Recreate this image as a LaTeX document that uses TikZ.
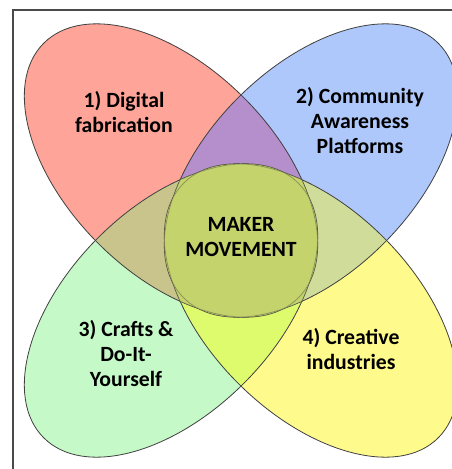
\documentclass[tikz,border=0pt]{standalone}
\usepackage{fontspec}
\setmainfont{Carlito}
\definecolor{cR}{HTML}{FFA498}
\definecolor{cB}{HTML}{AFC8FB}
\definecolor{cG}{HTML}{C6F9C8}
\definecolor{cY}{HTML}{FFFA8C}
\definecolor{cRB}{HTML}{B48FCB}
\definecolor{cRG}{HTML}{C8C48C}
\definecolor{cBY}{HTML}{D0DC9A}
\definecolor{cGY}{HTML}{DEFB6E}
\definecolor{cC}{HTML}{C5D36C}
\definecolor{frameC}{HTML}{4A4A4A}
\newcommand\pathR[1]{\path[#1, rotate around={-45:(171,170.5)}] (171,170.5) ellipse [x radius=180, y radius=103];}
\newcommand\pathB[1]{\path[#1, rotate around={45:(311,170.5)}] (311,170.5) ellipse [x radius=180, y radius=103];}
\newcommand\pathG[1]{\path[#1, rotate around={45:(171,310.5)}] (171,310.5) ellipse [x radius=180, y radius=103];}
\newcommand\pathY[1]{\path[#1, rotate around={-45:(311,310.5)}] (311,310.5) ellipse [x radius=180, y radius=103];}
\begin{document}
\begin{tikzpicture}[x=0.75pt,y=-0.75pt,
  lbl/.style={font=\bfseries\fontsize{16.3}{18.75}\selectfont, align=center, text=black, inner sep=0pt},
  outline/.style={draw=black!75, line width=0.6pt},
  frameline/.style={draw=frameC, line width=0.8pt}]
\clip (0,0) rectangle (452,469);
\fill[white] (0,0) rectangle (452,469);
% single fills
\pathR{fill=cR}
\pathB{fill=cB}
\pathG{fill=cG}
\pathY{fill=cY}
% pairwise overlaps
\begin{scope}\pathR{clip}\pathB{fill=cRB}\end{scope}
\begin{scope}\pathR{clip}\pathG{fill=cRG}\end{scope}
\begin{scope}\pathB{clip}\pathY{fill=cBY}\end{scope}
\begin{scope}\pathG{clip}\pathY{fill=cGY}\end{scope}
% centre
\begin{scope}\pathR{clip}\pathY{fill=cC}\end{scope}
\begin{scope}\pathB{clip}\pathG{fill=cC}\end{scope}
% outlines
\pathR{outline}
\pathB{outline}
\pathG{outline}
\pathY{outline}
% soften lines within the centre
\begin{scope}\pathR{clip}\pathY{fill=cC, fill opacity=0.45}\end{scope}
\begin{scope}\pathB{clip}\pathG{fill=cC, fill opacity=0.45}\end{scope}
% frame
\draw[frameline] (13,469) -- (13,10) -- (452,10);
% labels
\node[lbl] (t1) at (124,112) {1) Digital\\fabrication};
\node[lbl] (t2) at (360,121) {2) Community\\Awareness\\Platforms};
\node[lbl] (t0) at (241,237) {MAKER\\MOVEMENT};
\node[lbl] (t3) at (126,354) {3) Crafts \&\\Do-It-\\Yourself};
\node[lbl] (t4) at (351,349) {4) Creative\\industries};
\end{tikzpicture}
\end{document}
